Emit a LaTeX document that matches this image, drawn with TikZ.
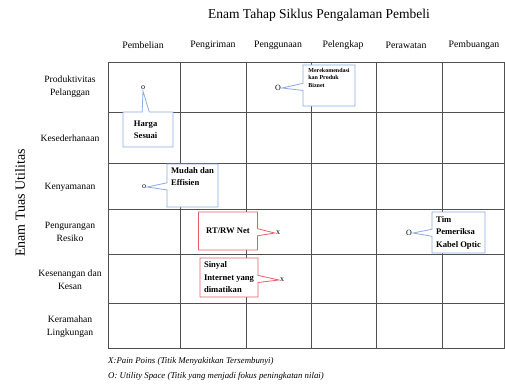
\documentclass[tikz,border=0pt]{standalone}
\usepackage{fontspec}
\setmainfont{Liberation Serif}
\usetikzlibrary{shapes.callouts}
\definecolor{gridc}{RGB}{80,80,80}
\definecolor{noteblue}{RGB}{140,170,225}
\definecolor{notered}{RGB}{230,95,105}
\tikzset{
  rowlbl/.style={align=center, font=\fontsize{9.6}{13}\selectfont},
  hdr/.style={font=\fontsize{9.8}{11}\selectfont},
  mk/.style={inner sep=1pt, font=\fontsize{8}{9}\selectfont},
  note/.style={rectangle callout, draw=noteblue, thick, fill=white, align=left,
    font=\bfseries\fontsize{8.6}{12.5}\selectfont, inner sep=2pt},
  warn/.style={note, draw=notered},
  legend/.style={anchor=west, inner sep=0pt, font=\itshape\fontsize{8.8}{10}\selectfont}
}

\begin{document}
\begin{tikzpicture}[x=1pt, y=-1pt]
    \useasboundingbox (0,0) rectangle (505,385);
    % judul
    \node[font=\fontsize{13.5}{15}\selectfont] (judul) at (319,15) {Enam Tahap Siklus Pengalaman Pembeli};
    \node[font=\fontsize{14}{15}\selectfont, rotate=90] (tuas) at (20,203) {Enam Tuas Utilitas};

    % grid
    \foreach \x in {108,180,246,311,376,442,504}
    {
      \draw[gridc, line width=0.7pt] (\x,62) -- (\x,348);
    }
    \foreach \y in {62,112,163,209,254,303,348}
    {
      \draw[gridc, line width=0.7pt] (108,\y) -- (505,\y);
    }

    % kolom
    \foreach \x/\t [count=\i] in {143/Pembelian,213/Pengiriman,278/Penggunaan,343/Pelengkap,406/Perawatan,474/Pembuangan}
    {
      \node[hdr](H\i) at (\x,45) {\t};
    }

    % baris
    \node[rowlbl](R1) at (70,87) {Produktivitas\\Pelanggan};
    \node[rowlbl](R2) at (70,138) {Kesederhanaan};
    \node[rowlbl](R3) at (70,187) {Kenyamanan};
    \node[rowlbl](R4) at (70,232) {Pengurangan\\Resiko};
    \node[rowlbl](R5) at (70,280) {Kesenangan dan\\Kesan};
    \node[rowlbl](R6) at (70,327) {Keramahan\\Lingkungan};

    % titik
    \node[mk](m1) at (143,88) {o};
    \node[mk](m2) at (144,187) {o};
    \node[mk](m3) at (278,88) {O};
    \node[mk](m4) at (278,233) {x};
    \node[mk](m5) at (282,280) {x};
    \node[mk](m6) at (409,233) {O};

    % catatan
    \node[note, minimum width=50pt, minimum height=35pt,
      callout absolute pointer={(m1.south)}] (c1) at (148,129.5) {Harga\phantom{n}\\Sesuai};
    \node[note, minimum width=51pt, minimum height=43pt,
      callout absolute pointer={(m2.east)}] (c2) at (192.5,185.5) {Mudah dan\\Effisien\\[5pt]};
    \node[note, minimum width=52pt, minimum height=41pt,
      font=\bfseries\fontsize{6}{7.5}\selectfont,
      callout absolute pointer={(m3.east)}] (c3) at (329,85.5) {Merekomendasi\\kan Produk\\Biznet\\[8pt]};
    \node[warn, minimum width=59pt, minimum height=38pt,
      callout absolute pointer={(m4.west)}] (c4) at (228,231) {RT/RW Net};
    \node[warn, minimum width=58pt, minimum height=39pt,
      callout absolute pointer={(m5.west)}] (c5) at (229,277.5) {Sinyal\\Internet yang\\dimatikan};
    \node[note, minimum width=53pt, minimum height=41pt,
      callout absolute pointer={(m6.east)}] (c6) at (458.5,232.5) {Tim\\Pemeriksa\\Kabel Optic};

    % keterangan
    \node[legend](k1) at (108,361) {X:Pain Poins (Titik Menyakitkan Tersembunyi)};
    \node[legend](k2) at (108,376) {O: Utility Space (Titik yang menjadi fokus peningkatan nilai)};
\end{tikzpicture}
\end{document}
